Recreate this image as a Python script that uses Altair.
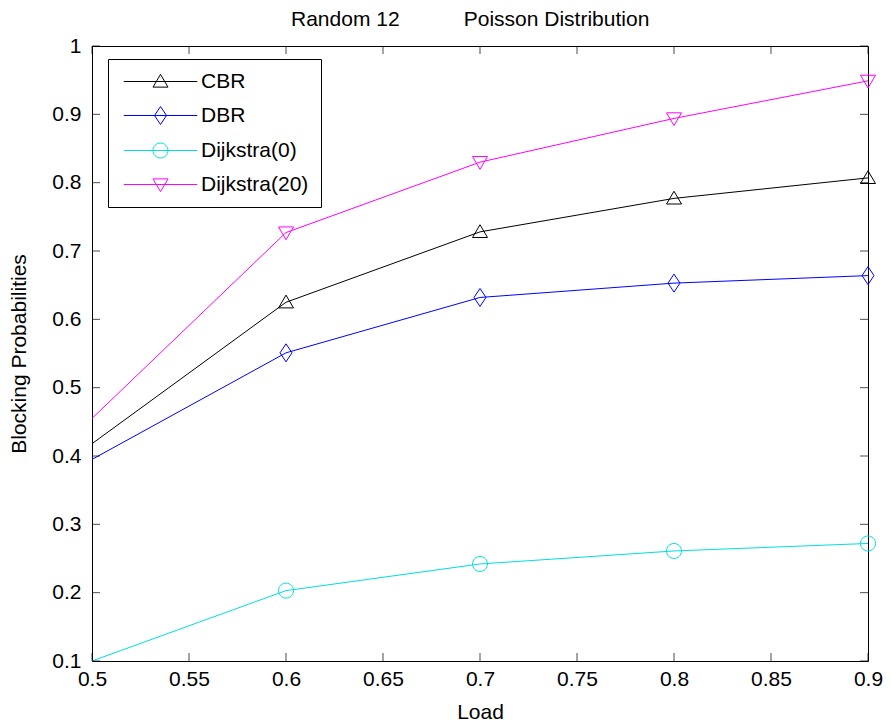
import altair as alt
import pandas as pd

# ---- data ----
loads = [0.5, 0.6, 0.7, 0.8, 0.9]
cbr = [0.418, 0.625, 0.728, 0.777, 0.807]
dbr = [0.395, 0.551, 0.632, 0.653, 0.664]
dijkstra0 = [0.100, 0.203, 0.242, 0.261, 0.272]
dijkstra20 = [0.455, 0.727, 0.830, 0.894, 0.949]

series_names = ["CBR", "DBR", "Dijkstra(0)", "Dijkstra(20)"]
series_colors = ["#000000", "#0000ff", "#00dede", "#ff00ff"]
x_ticks = [0.5, 0.55, 0.6, 0.65, 0.7, 0.75, 0.8, 0.85, 0.9]
y_ticks = [0.1, 0.2, 0.3, 0.4, 0.5, 0.6, 0.7, 0.8, 0.9, 1.0]
title_left = "Random 12"
title_right = "Poisson Distribution"
x_title = "Load"
y_title = "Blocking Probabilities"

# marker shapes (unit coordinates)
marker_paths = [
    "M0,-0.95L1,0.75L-1,0.75Z",
    "M0,-1.2L0.8,0L0,1.2L-0.8,0Z",
    "M1,0A1,1,0,1,1,-1,0A1,1,0,1,1,1,0Z",
    "M0,0.95L1,-0.75L-1,-0.75Z",
]
legend_line = "M-4.9,0L4.9,0"
legend_paths = [legend_line + p for p in marker_paths]

rows = []
for name, vals in zip(series_names, [cbr, dbr, dijkstra0, dijkstra20]):
    for l, v in zip(loads, vals):
        rows.append({"load": l, "value": v, "series": name})
df = pd.DataFrame(rows)
xt = pd.DataFrame({"load": x_ticks})
yt = pd.DataFrame({"value": y_ticks})

FONT = "Liberation Sans"
FS = 21
W, H = 776, 615
TICK = 8

x_scale = alt.Scale(domain=[0.5, 0.9], nice=False, zero=False)
y_scale = alt.Scale(domain=[0.1, 1.0], nice=False, zero=False)


def cscale():
    return alt.Scale(domain=series_names, range=series_colors)


legend = alt.Legend(
    title=None,
    orient="none",
    legendX=16,
    legendY=13,
    direction="vertical",
    strokeColor="black",
    fillColor="white",
    padding=12,
    labelFont=FONT,
    labelFontSize=FS,
    labelColor="black",
    symbolSize=225,
    symbolStrokeWidth=1,
    symbolOpacity=1,
    symbolOffset=30,
    labelOffset=30,
    rowPadding=12,
    cornerRadius=0,
)

axis_common = dict(
    grid=False,
    domain=False,
    ticks=False,
    labelColor="black",
    labelFont=FONT,
    labelFontSize=FS,
    labelFlush=False,
    titleFont=FONT,
    titleFontSize=FS,
    titleFontWeight="normal",
    titleColor="black",
)
x_axis = alt.Axis(values=x_ticks, format="~g", title=x_title,
                  labelPadding=7, titlePadding=12, **axis_common)
y_axis = alt.Axis(values=y_ticks, format="~g", title=y_title,
                  labelPadding=11, titlePadding=22, **axis_common)

X = alt.X("load:Q", scale=x_scale, axis=x_axis)
Y = alt.Y("value:Q", scale=y_scale, axis=y_axis)

lines = alt.Chart(df).mark_line(strokeWidth=1, clip=True).encode(
    x=X, y=Y,
    color=alt.Color("series:N", scale=cscale(), legend=None),
    detail="series:N",
)

points = alt.Chart(df).transform_filter(
    "datum.load > 0.55"
).mark_point(filled=False, size=225, strokeWidth=1, opacity=1).encode(
    x=X, y=Y,
    color=alt.Color("series:N", scale=cscale(), legend=None),
    shape=alt.Shape("series:N", scale=alt.Scale(domain=series_names, range=marker_paths),
                    legend=None),
)

legend_layer = alt.Chart(df).mark_point(
    filled=False, size=225, strokeWidth=1, opacity=0
).encode(
    x=X, y=Y,
    color=alt.Color("series:N", scale=cscale(), legend=legend),
    shape=alt.Shape("series:N", scale=alt.Scale(domain=series_names, range=legend_paths),
                    legend=legend),
)

# inward tick marks on all four sides
tick_style = dict(size=TICK, thickness=1, color="black")
ticks_bottom = alt.Chart(xt).mark_tick(orient="vertical", **tick_style).encode(
    x=X, y=alt.value(H - TICK / 2))
ticks_top = alt.Chart(xt).mark_tick(orient="vertical", **tick_style).encode(
    x=X, y=alt.value(TICK / 2))
ticks_left = alt.Chart(yt).mark_tick(orient="horizontal", **tick_style).encode(
    y=Y, x=alt.value(TICK / 2))
ticks_right = alt.Chart(yt).mark_tick(orient="horizontal", **tick_style).encode(
    y=Y, x=alt.value(W - TICK / 2))

nb = "\u00a0" * 11
chart = alt.layer(
    lines, points, legend_layer, ticks_bottom, ticks_top, ticks_left, ticks_right
).resolve_scale(shape="independent", color="independent").properties(
    width=W,
    height=H,
    title=alt.Title(
        title_left + nb + title_right,
        anchor="start",
        dx=199,
        font=FONT,
        fontSize=FS,
        fontWeight="normal",
        color="black",
        offset=5,
        frame="group",
    ),
    autosize=alt.AutoSizeParams(type="none"),
    padding={"left": 84, "top": 38, "right": 15, "bottom": 70},
    background="white",
).configure_view(stroke="black", strokeWidth=1)

chart.save("out.html", embed_options={"renderer": "svg", "actions": False})
